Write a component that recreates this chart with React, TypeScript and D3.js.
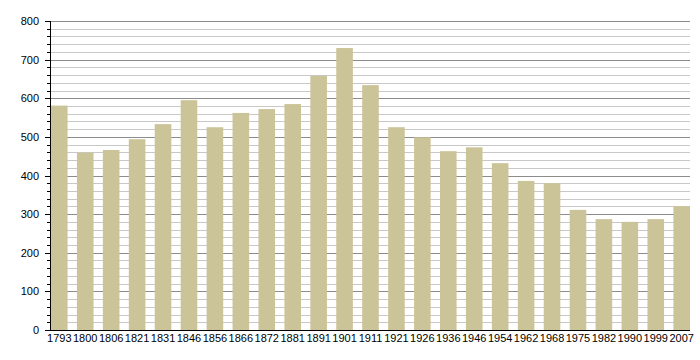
import React from "react";
import * as d3 from "d3";

const years = ["1793","1800","1806","1821","1831","1846","1856","1866","1872","1881","1891","1901","1911","1921","1926","1936","1946","1954","1962","1968","1975","1982","1990","1999","2007"];
const population = [581,459,466,494,533,595,525,562,572,585,658,730,634,525,499,463,473,432,386,380,311,287,280,287,321];
const majorTicks = [0,100,200,300,400,500,600,700,800];
const minorTicks = d3.range(0, 801, 20);

const W = 700, H = 360;
const left = 50, right = 690, top = 21, bottom = 330;

export default function App() {
  const x = d3.scaleBand<string>().domain(years).range([left + 1, right]).paddingInner(0.36).paddingOuter(0);
  const y = d3.scaleLinear().domain([0, 800]).range([bottom, top]);
  const font = "'Liberation Sans', Arial, sans-serif";
  return (
    <svg width={W} height={H} style={{ position: "absolute", left: 0, top: 0 }}>
      <rect width={W} height={H} fill="#fff" />
      {minorTicks.filter(v => v % 100 !== 0).map(v => (
        <line key={"m" + v} x1={left} x2={right} y1={Math.round(y(v)) + 0.5} y2={Math.round(y(v)) + 0.5} stroke="#c8c8c8" strokeWidth={1} />
      ))}
      {majorTicks.filter(v => v !== 0).map(v => (
        <line key={"M" + v} x1={left} x2={right} y1={Math.round(y(v)) + 0.5} y2={Math.round(y(v)) + 0.5} stroke="#8c8c8c" strokeWidth={1} />
      ))}
      {years.map((yr, i) => (
        <rect key={yr} x={x(yr)} width={x.bandwidth()} y={y(population[i])} height={bottom - y(population[i])} fill="#ccc499" />
      ))}
      <line x1={left + 0.5} x2={left + 0.5} y1={top} y2={bottom} stroke="#000" />
      <line x1={left} x2={right} y1={bottom + 0.5} y2={bottom + 0.5} stroke="#000" />
      {minorTicks.map(v => (
        <line key={"t" + v} x1={v % 100 === 0 ? left - 5 : left - 3} x2={left} y1={Math.round(y(v)) + 0.5} y2={Math.round(y(v)) + 0.5} stroke="#000" />
      ))}
      {majorTicks.map(v => (
        <text key={"l" + v} x={39} y={y(v) + 4} textAnchor="end" fontFamily={font} fontSize={11} fill="#000">{v}</text>
      ))}
      {years.map(yr => (
        <text key={"x" + yr} x={(x(yr) as number) + x.bandwidth() / 2} y={342} textAnchor="middle" fontFamily={font} fontSize={11} fill="#000">{yr}</text>
      ))}
    </svg>
  );
}
